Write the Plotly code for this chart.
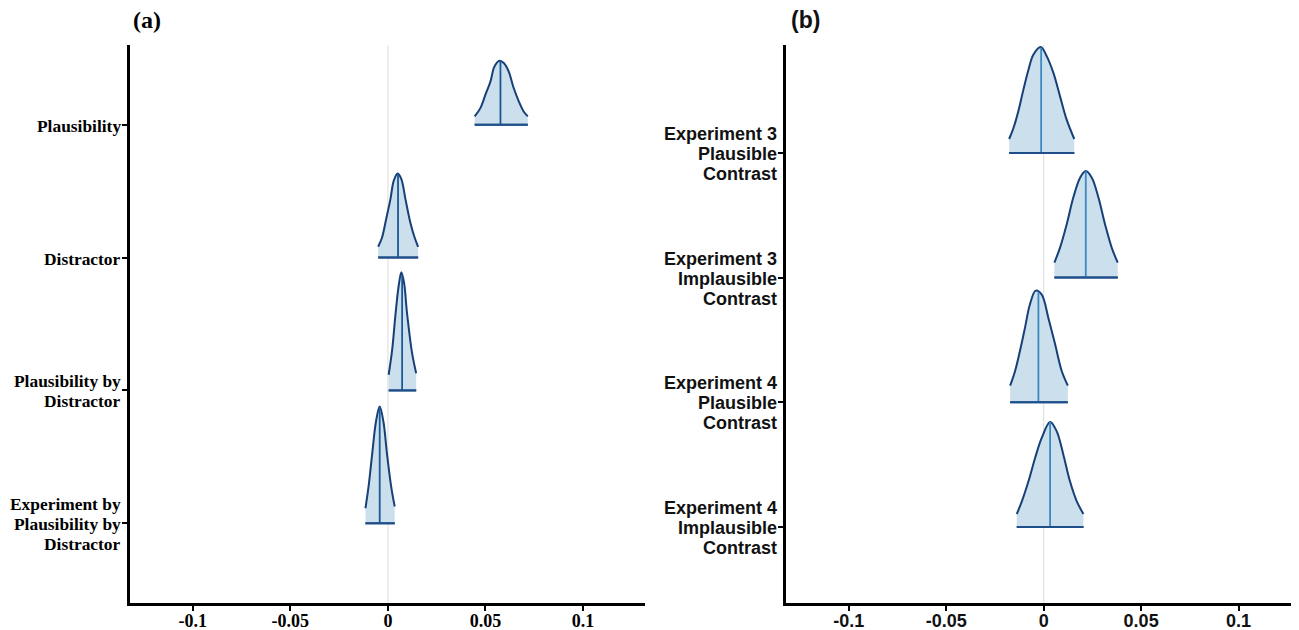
import numpy as np
import plotly.graph_objects as go

# ---------------- Panel (a) data ----------------
a_labels = ["Plausibility", "Distractor", "Plausibility by\nDistractor",
            "Experiment by\nPlausibility by\nDistractor"]
a_levels = [4, 3, 2, 1]
a_medians = [0.0577, 0.0052, 0.0073, -0.0042]
a_plaus_x = [0.0445, 0.0474, 0.0500, 0.0526, 0.0543, 0.0560, 0.0573, 0.0594, 0.0619, 0.0645, 0.0671, 0.0696, 0.0717]
a_plaus_h = [0.063, 0.125, 0.226, 0.326, 0.427, 0.469, 0.482, 0.464, 0.402, 0.276, 0.176, 0.100, 0.063]
a_dist_x = [-0.0050, -0.0030, -0.0009, 0.0013, 0.0030, 0.0050, 0.0069, 0.0090, 0.0115, 0.0137, 0.0155]
a_dist_h = [0.081, 0.151, 0.289, 0.440, 0.578, 0.633, 0.591, 0.440, 0.264, 0.151, 0.081]
a_pbd_x = [0.0004, 0.0022, 0.0038, 0.0055, 0.0069, 0.0083, 0.0098, 0.0124, 0.0145]
a_pbd_h = [0.118, 0.307, 0.558, 0.784, 0.889, 0.809, 0.583, 0.281, 0.130]
a_epd_x = [-0.0115, -0.0098, -0.0081, -0.0061, -0.0042, -0.0023, -0.0004, 0.0018, 0.0035]
a_epd_h = [0.113, 0.289, 0.515, 0.766, 0.879, 0.766, 0.515, 0.264, 0.126]

# ---------------- Panel (b) data ----------------
b_labels = ["Experiment 3\nPlausible\nContrast", "Experiment 3\nImplausible\nContrast",
            "Experiment 4\nPlausible\nContrast", "Experiment 4\nImplausible\nContrast"]
b_levels = [4, 3, 2, 1]
b_medians = [-0.0013, 0.0216, -0.0027, 0.0033]
b_e3p_x = [-0.0177, -0.0155, -0.0130, -0.0104, -0.0078, -0.0053, -0.0015, 0.0016, 0.0050, 0.0084, 0.0118, 0.0157]
b_e3p_h = [0.112, 0.200, 0.334, 0.508, 0.668, 0.788, 0.850, 0.775, 0.642, 0.454, 0.267, 0.112]
b_e3i_x = [0.0055, 0.0084, 0.0118, 0.0152, 0.0187, 0.0216, 0.0247, 0.0281, 0.0315, 0.0349, 0.0380]
b_e3i_h = [0.120, 0.241, 0.427, 0.642, 0.802, 0.855, 0.802, 0.642, 0.427, 0.241, 0.120]
b_e4p_x = [-0.0172, -0.0147, -0.0122, -0.0096, -0.0071, -0.0041, -0.0010, 0.0024, 0.0059, 0.0093, 0.0124]
b_e4p_h = [0.134, 0.249, 0.409, 0.597, 0.783, 0.896, 0.864, 0.677, 0.463, 0.249, 0.134]
b_e4i_x = [-0.0138, -0.0112, -0.0078, -0.0044, -0.0010, 0.0033, 0.0067, 0.0101, 0.0135, 0.0170, 0.0204]
b_e4i_h = [0.104, 0.205, 0.366, 0.553, 0.714, 0.842, 0.767, 0.580, 0.366, 0.205, 0.104]

tick_vals = [-0.1, -0.05, 0, 0.05, 0.1]
tick_text = ["-0.1", "-0.05", "0", "0.05", "0.1"]

FILL = "#cbe0ec"
OUTLINE = "#173f78"
BASE = "#1f4f8a"
MED_A = "#1a5796"
MED_B = "#3b88c2"

fig = go.Figure()


def add_ridges(xs_list, hs_list, levels, medians, xa, ya, med_color):
    for xs, hs, lev, med in zip(xs_list, hs_list, levels, medians):
        xs = np.array(xs)
        hs = np.array(hs)
        fig.add_trace(go.Scatter(x=[xs[0], xs[-1]], y=[lev, lev], mode="lines",
                                 line=dict(color=BASE, width=2), xaxis=xa, yaxis=ya,
                                 showlegend=False, hoverinfo="skip"))
        fig.add_trace(go.Scatter(x=xs, y=lev + hs, mode="lines", fill="tonexty",
                                 fillcolor=FILL,
                                 line=dict(color=OUTLINE, width=2, shape="spline", smoothing=1.0),
                                 xaxis=xa, yaxis=ya, showlegend=False, hoverinfo="skip"))
        mh = float(np.interp(med, xs, hs))
        fig.add_trace(go.Scatter(x=[med, med], y=[lev, lev + mh], mode="lines",
                                 line=dict(color=med_color, width=1.8), xaxis=xa, yaxis=ya,
                                 showlegend=False, hoverinfo="skip"))
        fig.add_trace(go.Scatter(x=[xs[0], xs[-1]], y=[lev, lev], mode="lines",
                                 line=dict(color=BASE, width=2), xaxis=xa, yaxis=ya,
                                 showlegend=False, hoverinfo="skip"))


add_ridges([a_plaus_x, a_dist_x, a_pbd_x, a_epd_x], [a_plaus_h, a_dist_h, a_pbd_h, a_epd_h],
           a_levels, a_medians, "x", "y", MED_A)
add_ridges([b_e3p_x, b_e3i_x, b_e4p_x, b_e4i_x], [b_e3p_h, b_e3i_h, b_e4p_h, b_e4i_h],
           b_levels, b_medians, "x2", "y2", MED_B)

# page puts the figure at an 8px offset; figure covers the rest of the window
OFF = 8
W, H = 1299 - OFF, 630 - OFF
ydom = [1 - (603 - OFF) / H, 1 - (45 - OFF) / H]

serif = dict(family="Liberation Serif, Times New Roman, serif", size=18, color="black", weight="bold")
serif_lab = dict(family="Liberation Serif, Times New Roman, serif", size=17.4, color="black", weight="bold")
sans = dict(family="Liberation Sans, Arial, sans-serif", size=18, color="#111111", weight="bold")

axis_common = dict(showgrid=False, zeroline=False, showline=True, linecolor="black", linewidth=2.5,
                   ticks="outside", ticklen=5, tickwidth=2, tickcolor="black", automargin=False)

fig.update_layout(
    width=W, height=H,
    margin=dict(l=0, r=0, t=0, b=0),
    plot_bgcolor="white", paper_bgcolor="white",
    xaxis=dict(domain=[(130 - OFF) / W, (645 - OFF) / W], range=[-0.1322, 0.1318], tickvals=tick_vals,
               ticktext=tick_text, tickfont=serif, anchor="y", ticklabelstandoff=-5, **axis_common),
    yaxis=dict(domain=ydom, range=[0.4, 4.6], tickvals=a_levels, ticktext=[""] * 4,
               anchor="x", **axis_common),
    xaxis2=dict(domain=[(786 - OFF) / W, 1.0], range=[-0.1322, 0.1310], tickvals=tick_vals,
                ticktext=tick_text, tickfont=sans, anchor="y2", ticklabelstandoff=-5, **axis_common),
    yaxis2=dict(domain=ydom, range=[0.39, 4.866], tickvals=b_levels, ticktext=[""] * 4,
                anchor="x2", **axis_common),
    showlegend=False,
)

# category labels, one text per line so the line spacing matches
LINE = 20
for labels, levels, xr, yr, font, xs in ((a_labels, a_levels, "x domain", "y", serif_lab, -8),
                                         (b_labels, b_levels, "x2 domain", "y2", sans, -8)):
    for lab, lev in zip(labels, levels):
        lines = lab.split("\n")
        n = len(lines)
        for i, ln in enumerate(lines):
            off = ((n - 1) / 2 - i) * LINE - 1
            fig.add_annotation(text=ln, x=0, y=lev, xref=xr, yref=yr, xanchor="right",
                               yanchor="middle", xshift=xs, yshift=off, showarrow=False,
                               font=font, borderpad=0)

for xr, yr in (("x", "y domain"), ("x2", "y2 domain")):
    fig.add_shape(type="line", xref=xr, yref=yr, x0=0, x1=0, y0=0, y1=1,
                  line=dict(color="#e2e2e2", width=1.2), layer="below")

fig.add_annotation(text="(a)", x=(131 - OFF) / W, y=1 - (20 - OFF) / H, xref="paper", yref="paper",
                   xanchor="left", yanchor="middle", showarrow=False,
                   font=dict(family="Liberation Serif, Times New Roman, serif", size=24,
                             color="black", weight="bold"))
fig.add_annotation(text="(b)", x=(789 - OFF) / W, y=1 - (20 - OFF) / H, xref="paper", yref="paper",
                   xanchor="left", yanchor="middle", showarrow=False,
                   font=dict(family="Liberation Sans, Arial, sans-serif", size=23,
                             color="#111111", weight="bold"))

fig.write_html("out.html")
